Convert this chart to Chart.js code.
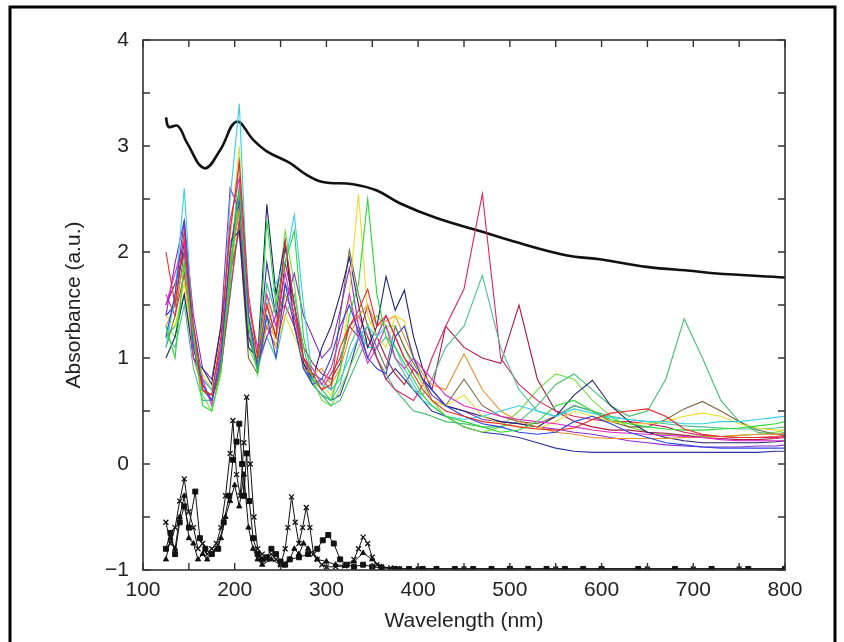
<!DOCTYPE html>
<html>
<head>
<meta charset="utf-8">
<script src="https://cdn.jsdelivr.net/npm/chart.js@4.4.0/dist/chart.umd.min.js"></script>
<style>
  html, body { margin: 0; padding: 0; background: #fff; }
  #wrap { width: 844px; height: 642px; position: relative; }
</style>
</head>
<body>
<div id="wrap"><canvas id="absChart" width="844" height="642"></canvas></div>
<script>
// wavelength grid (nm) shared by the coloured spectra
const wl = [125,135,145,155,165,175,185,195,205,215,
            225,235,245,255,265,275,285,295,305,315,
            325,335,345,355,365,375,385,395,405,415,
            430,450,470,490,510,530,550,570,590,610,
            630,650,670,690,710,730,750,770,790,800];

const sRed = [2.0,1.5,2.2,1.3,0.7,0.65,1.2,2.2,2.85,1.6,
              1.0,1.5,1.2,2.1,1.5,1.0,0.85,0.7,0.75,1.1,
              1.3,1.45,1.65,1.3,1.4,1.2,1.0,0.85,0.7,0.6,
              0.5,0.45,0.4,0.38,0.35,0.33,0.32,0.34,0.42,0.48,
              0.5,0.52,0.45,0.33,0.28,0.26,0.25,0.25,0.26,0.27];
const sGreen = [1.3,1.0,1.9,1.2,0.55,0.5,0.9,1.8,2.6,1.3,
                0.85,2.3,1.5,1.9,2.2,1.2,0.8,0.7,0.6,0.9,
                1.4,1.7,2.5,1.6,1.2,1.1,0.95,0.8,0.65,0.55,
                0.45,0.4,0.35,0.3,0.32,0.4,0.55,0.6,0.5,0.42,
                0.38,0.35,0.33,0.32,0.32,0.33,0.34,0.36,0.38,0.4];
const sBlue = [1.2,1.6,2.3,1.1,0.75,0.6,1.0,2.0,2.5,1.4,
               0.9,1.4,1.0,1.7,1.3,0.9,0.75,0.8,1.0,1.3,
               1.5,1.25,1.0,0.9,0.85,1.2,1.3,1.0,0.8,0.7,
               0.55,0.45,0.38,0.35,0.3,0.28,0.3,0.4,0.45,0.38,
               0.3,0.25,0.2,0.18,0.16,0.15,0.15,0.15,0.15,0.15];
const sMagenta = [1.5,1.8,2.1,1.0,0.8,0.55,1.1,2.3,2.7,1.5,
                  1.1,1.6,1.3,1.8,1.4,1.0,0.9,0.75,0.9,1.2,
                  1.6,1.2,0.95,1.1,1.3,1.0,0.9,1.0,0.9,0.8,
                  0.65,0.55,0.5,0.45,0.42,0.4,0.38,0.35,0.32,0.3,
                  0.29,0.28,0.27,0.26,0.25,0.23,0.22,0.22,0.22,0.22];
const sCyan = [1.1,1.6,2.6,1.2,0.8,0.7,1.0,2.5,3.4,1.4,
               0.9,1.5,1.7,1.9,2.35,1.5,0.8,0.75,0.7,0.8,
               1.0,1.2,1.3,1.2,1.3,1.1,0.9,0.75,0.6,0.55,
               0.45,0.42,0.45,0.5,0.55,0.5,0.45,0.52,0.48,0.44,
               0.42,0.4,0.4,0.38,0.38,0.4,0.4,0.42,0.44,0.45];
const sYellow = [1.4,1.3,1.7,1.1,0.85,0.7,1.2,2.1,3.0,1.3,
                 1.0,1.6,1.1,1.4,1.2,1.0,0.9,0.75,0.65,0.85,
                 1.6,2.55,1.4,1.2,1.1,1.4,1.35,1.0,0.75,0.6,
                 0.55,0.65,0.45,0.38,0.35,0.33,0.4,0.5,0.45,0.4,
                 0.38,0.38,0.4,0.45,0.48,0.45,0.38,0.34,0.32,0.32];
const sOrange = [1.3,1.5,1.9,1.0,0.7,0.65,1.0,1.9,2.4,1.5,
                 1.0,1.3,1.2,1.6,1.4,0.9,0.85,0.9,0.75,0.9,
                 1.2,1.4,1.5,1.3,1.35,1.4,1.2,1.0,0.85,0.75,
                 0.7,1.04,0.7,0.5,0.4,0.35,0.3,0.28,0.25,0.24,
                 0.24,0.24,0.24,0.25,0.25,0.26,0.27,0.28,0.28,0.29];
const sNavy = [1.0,1.2,1.6,1.0,0.9,0.75,1.3,2.1,2.2,1.1,
               1.0,2.45,1.6,2.1,1.3,0.95,0.8,1.1,1.3,1.6,
               1.95,1.5,1.1,1.3,1.77,1.45,1.64,1.2,0.9,0.7,
               0.55,0.5,0.45,0.4,0.38,0.35,0.45,0.65,0.79,0.55,
               0.4,0.3,0.25,0.22,0.2,0.2,0.2,0.2,0.21,0.22];
const sPurple = [1.4,1.9,2.3,1.4,0.9,0.8,1.3,2.6,2.4,1.2,
                 0.95,1.2,1.4,1.5,1.8,1.4,1.2,1.0,1.1,1.45,
                 1.85,1.3,1.0,1.2,1.4,1.2,1.0,0.9,0.8,0.65,
                 0.55,0.5,0.42,0.4,0.38,0.35,0.33,0.3,0.28,0.25,
                 0.22,0.2,0.18,0.17,0.16,0.16,0.16,0.17,0.17,0.18];
const sSeaGreen = [1.2,1.1,1.5,0.9,0.6,0.6,1.0,1.7,2.9,1.3,
                   0.9,1.2,1.0,1.4,1.6,1.1,0.75,0.65,0.6,0.75,
                   1.1,1.3,1.1,1.1,1.2,1.0,0.85,0.7,0.65,0.8,
                   1.1,1.3,1.78,1.1,0.7,0.5,0.45,0.55,0.5,0.45,
                   0.42,0.4,0.38,0.36,0.35,0.34,0.33,0.33,0.34,0.35];
const sCrimson = [1.6,1.4,1.8,1.1,0.75,0.6,0.9,1.6,2.3,1.2,
                  1.05,1.3,1.1,1.5,1.3,1.0,0.8,0.7,0.85,1.0,
                  1.3,1.4,1.2,1.0,0.8,0.7,0.65,0.6,0.75,1.0,
                  1.3,1.65,2.55,1.0,0.75,0.6,0.5,0.45,0.42,0.4,
                  0.4,0.38,0.35,0.3,0.27,0.26,0.25,0.25,0.25,0.26];
const sOlive = [1.1,1.4,2.0,1.2,0.7,0.6,0.95,1.8,2.2,1.0,
                0.85,1.4,1.2,1.7,1.5,1.0,0.85,0.8,0.7,1.4,
                2.02,1.6,1.3,1.1,0.9,1.3,1.1,0.95,0.8,0.6,
                0.55,0.8,0.55,0.45,0.4,0.38,0.45,0.55,0.5,0.4,
                0.35,0.35,0.42,0.52,0.59,0.5,0.4,0.32,0.28,0.28];
const sGreen2 = [1.2,1.3,1.6,1.1,0.7,0.6,0.9,1.6,2.3,1.2,
                 0.9,1.7,1.4,1.6,1.4,0.9,0.75,0.65,0.55,0.6,
                 0.8,1.0,1.2,1.0,0.85,0.7,0.6,0.5,0.48,0.45,
                 0.4,0.38,0.35,0.35,0.4,0.55,0.75,0.85,0.7,0.55,
                 0.45,0.5,0.8,1.37,1.0,0.6,0.4,0.3,0.28,0.3];
const sDarkRed = [1.5,1.7,2.0,1.3,0.8,0.7,1.1,2.0,2.6,1.4,
                  1.0,1.5,1.2,1.9,1.5,1.1,0.95,0.85,0.8,0.95,
                  1.3,1.2,1.5,1.2,1.0,0.85,0.75,0.9,0.8,0.7,
                  1.3,1.1,1.0,0.95,1.5,0.8,0.5,0.4,0.35,0.32,
                  0.32,0.3,0.29,0.27,0.25,0.24,0.23,0.23,0.24,0.25];
const sLime = [1.3,1.2,1.8,1.2,0.65,0.5,0.85,1.7,2.5,1.1,
               0.9,1.3,1.5,2.2,1.7,1.0,0.8,0.6,0.55,0.7,
               0.9,1.1,1.3,1.4,1.3,1.3,1.1,0.9,0.75,0.6,
               0.45,0.35,0.3,0.35,0.5,0.7,0.85,0.8,0.6,0.45,
               0.35,0.3,0.28,0.27,0.26,0.26,0.27,0.28,0.3,0.32];
const sIndigo = [1.4,1.5,2.1,1.2,0.7,0.65,1.0,1.9,2.4,1.2,
                 0.95,1.9,1.4,2.05,1.5,0.95,0.75,0.65,0.6,0.65,
                 0.9,1.2,1.3,1.0,0.8,0.9,0.8,0.7,0.6,0.5,
                 0.45,0.35,0.3,0.28,0.25,0.2,0.15,0.12,0.11,0.11,
                 0.11,0.11,0.11,0.11,0.11,0.11,0.11,0.11,0.12,0.12];

const spectra = [
  [sRed, '#e82a2a'], [sGreen, '#22dd33'], [sBlue, '#2b45e0'], [sMagenta, '#dc28c8'],
  [sCyan, '#33d0e6'], [sYellow, '#e6e028'], [sOrange, '#f0902a'], [sNavy, '#22226e'],
  [sPurple, '#8a2ccc'], [sSeaGreen, '#48c096'], [sCrimson, '#e0245e'], [sOlive, '#7a6648'],
  [sGreen2, '#40c070'], [sDarkRed, '#b0184a'], [sLime, '#70e040'], [sIndigo, '#3030a0']
];

// thick black reference curve
const refWl = [125,128,138,148,167,184,202,220,235,260,278,296,329,355,380,420,470,500,561,600,649,700,722,800];
const refAbs = [3.27,3.18,3.19,3.03,2.79,2.96,3.23,3.06,2.95,2.84,2.73,2.66,2.64,2.58,2.46,2.32,2.19,2.11,1.97,1.93,1.86,1.82,1.80,1.76];

// black marker series (shifted down)
const wlA = [125,130,135,140,145,150,155,160,165,170,175,180,185,190,195,198,202,206,210,213,
             217,221,225,230,235,240,245,250,255,258,262,266,270,274,278,282,286,290,295,300,
             310,320,330,335,340,345,350,355,360,370,380,400,450,500,550,600,650,700,750,800];
const absA = [-0.55,-0.75,-0.6,-0.35,-0.14,-0.45,-0.6,-0.8,-0.75,-0.85,-0.8,-0.75,-0.6,-0.3,0.1,0.41,-0.1,-0.3,0.2,0.63,
              0.0,-0.5,-0.8,-0.85,-0.9,-0.85,-0.9,-0.95,-0.8,-0.6,-0.31,-0.55,-0.75,-0.6,-0.41,-0.6,-0.85,-0.9,-0.95,-0.97,
              -0.97,-0.96,-0.9,-0.8,-0.69,-0.75,-0.88,-0.95,-0.97,-0.98,-0.99,-0.99,-0.99,-0.99,-0.99,-0.99,-0.99,-0.99,-0.99,-0.99];
const wlB = [125,130,135,140,145,150,157,162,168,175,182,188,194,198,202,205,208,210,213,216,
             220,225,230,235,240,245,250,255,260,270,280,290,296,302,308,315,322,330,340,350,
             360,375,390,405,420,440,460,480,500,520,540,560,580,600,640,680,720,760,800];
const absB = [-0.8,-0.65,-0.85,-0.55,-0.4,-0.6,-0.26,-0.7,-0.8,-0.85,-0.8,-0.55,-0.3,0.04,0.21,0.38,0.0,-0.3,0.1,-0.35,
              -0.7,-0.85,-0.9,-0.88,-0.8,-0.85,-0.92,-0.95,-0.9,-0.88,-0.85,-0.8,-0.72,-0.67,-0.75,-0.9,-0.95,-0.97,-0.95,-0.97,
              -0.98,-0.99,-0.99,-0.99,-0.99,-0.99,-0.99,-0.99,-0.99,-0.99,-0.99,-0.99,-0.99,-0.99,-0.99,-0.99,-0.99,-0.99,-0.99];
const wlC = [125,130,135,140,145,150,155,160,165,170,175,180,185,190,195,200,205,210,215,220,
             225,230,240,250,260,265,270,275,280,290,300,310,320,330,340,350,360,380,400,450,
             500,550,600,650,700,750,800];
const absC = [-0.9,-0.7,-0.8,-0.5,-0.3,-0.7,-0.75,-0.9,-0.85,-0.9,-0.85,-0.8,-0.7,-0.5,-0.35,-0.2,-0.4,-0.1,-0.6,-0.8,
              -0.9,-0.95,-0.9,-0.95,-0.9,-0.8,-0.85,-0.75,-0.8,-0.9,-0.92,-0.95,-0.96,-0.92,-0.84,-0.9,-0.97,-0.99,-0.99,-0.99,
              -0.99,-0.99,-0.99,-0.99,-0.99,-0.99,-0.99];

const xTicks = [100, 800, 100];   // min, max, label step
const yTicks = [-1, 4, 1];
const minorX = 50, minorY = 0.5;

function pts(xs, ys) {
    return xs.map((x, i) => ({ x: x, y: ys[i] }));
}

const datasets = [];
spectra.forEach(s => {
    datasets.push({
        data: pts(wl, s[0]),
        borderColor: s[1],
        borderWidth: 1.1,
        pointRadius: 0,
        showLine: true,
        tension: 0
    });
});
datasets.push({ data: pts(refWl, refAbs), borderColor: '#111', borderWidth: 2.6, pointRadius: 0, showLine: true, tension: 0.4 });
datasets.push({ data: pts(wlA, absA), borderColor: '#111', borderWidth: 1, pointStyle: 'crossRot', pointRadius: 3.5, pointBorderWidth: 1.3, pointBorderColor: '#111', showLine: true });
datasets.push({ data: pts(wlB, absB), borderColor: '#111', borderWidth: 1, pointStyle: 'rect', pointRadius: 3.5, pointBackgroundColor: '#111', pointBorderColor: '#111', showLine: true });
datasets.push({ data: pts(wlC, absC), borderColor: '#111', borderWidth: 1, pointStyle: 'triangle', pointRadius: 3, pointBackgroundColor: '#111', pointBorderColor: '#111', showLine: true });

// frame, inward ticks on all four sides, outer figure border
const framePlugin = {
    id: 'frame',
    beforeDraw(chart) {
        const c = chart.ctx;
        c.save();
        c.fillStyle = '#fff';
        c.fillRect(0, 0, chart.width, chart.height);
        c.strokeStyle = '#000';
        c.lineWidth = 3;
        c.beginPath();
        c.moveTo(10, 700); c.lineTo(10, 7); c.lineTo(835, 7); c.lineTo(835, 700);
        c.stroke();
        c.restore();
    },
    afterDatasetsDraw(chart) {
        const c = chart.ctx, a = chart.chartArea;
        const xs = chart.scales.x, ys = chart.scales.y;
        c.save();
        c.strokeStyle = '#333';
        c.lineWidth = 1.6;
        c.strokeRect(a.left, a.top, a.right - a.left, a.bottom - a.top);
        c.lineWidth = 1.4;
        c.beginPath();
        for (let v = xTicks[0]; v <= xTicks[1]; v += minorX) {
            const px = xs.getPixelForValue(v);
            c.moveTo(px, a.bottom); c.lineTo(px, a.bottom - 7);
            c.moveTo(px, a.top); c.lineTo(px, a.top + 7);
        }
        for (let v = yTicks[0]; v <= yTicks[1] + 1e-9; v += minorY) {
            const py = ys.getPixelForValue(v);
            c.moveTo(a.left, py); c.lineTo(a.left + 7, py);
            c.moveTo(a.right, py); c.lineTo(a.right - 7, py);
        }
        c.stroke();
        c.restore();
    }
};

const tickFont = { family: '"Liberation Sans", Arial, sans-serif', size: 21 };

new Chart(document.getElementById('absChart'), {
    type: 'scatter',
    data: { datasets: datasets },
    options: {
        responsive: false,
        animation: false,
        layout: { padding: { left: 58, right: 59, top: 40, bottom: 4 } },
        plugins: { legend: { display: false }, tooltip: { enabled: false } },
        scales: {
            x: {
                type: 'linear',
                min: xTicks[0], max: xTicks[1],
                grid: { display: false, drawTicks: false },
                border: { display: false },
                ticks: { stepSize: xTicks[2], color: '#222', font: tickFont, padding: 8, maxRotation: 0 },
                title: { display: true, text: 'Wavelength (nm)', color: '#222', font: tickFont, padding: 4 },
                afterFit: s => { s.height = 68; }
            },
            y: {
                min: yTicks[0], max: yTicks[1],
                grid: { display: false, drawTicks: false },
                border: { display: false },
                ticks: {
                    stepSize: yTicks[2], color: '#222', font: tickFont, padding: 14,
                    callback: v => (v < 0 ? '\u2212' + Math.abs(v) : String(v))
                },
                title: { display: true, text: 'Absorbance (a.u.)', color: '#222', font: tickFont, padding: 4 },
                afterFit: s => { s.width = 85; }
            }
        }
    },
    plugins: [framePlugin]
});
</script>
</body>
</html>
